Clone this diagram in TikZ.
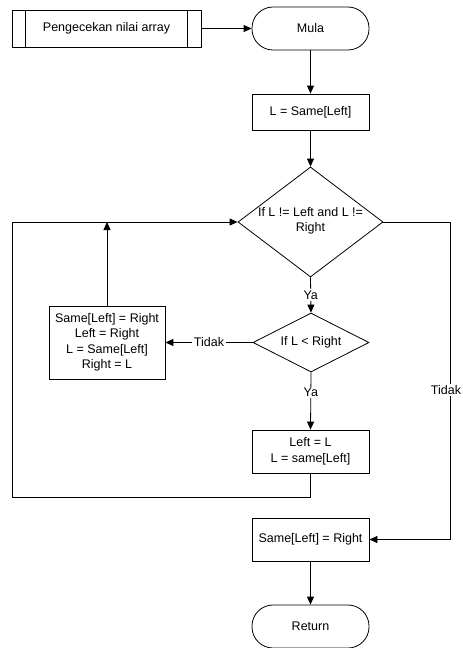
\documentclass[tikz,border=0pt]{standalone}
\usepackage{fontspec}
\setmainfont{Liberation Sans}
\usetikzlibrary{shapes.geometric,arrows.meta}
\begin{document}
\begin{tikzpicture}[x=1pt,y=-1pt,
  every node/.style={font=\fontsize{12.5}{15.5}\selectfont, text=black},
  ln/.style={draw=black, line width=0.8pt},
  arr/.style={ln, -{Triangle[length=8pt,width=7pt]}},
  box/.style={ln, rectangle, inner sep=0pt, align=center},
  term/.style={ln, rectangle, rounded corners=21pt, inner sep=0pt, minimum width=117pt, minimum height=43pt},
  dia/.style={ln, diamond, inner sep=0pt},
  lab/.style={fill=white, inner sep=1.5pt}
]
\fill[white] (0,0) rectangle (463,648);
\useasboundingbox (0,0) rectangle (463,648);

% nodes
\node[box, minimum width=189pt, minimum height=37pt] (sub) at (106.5,28.5) {Pengecekan nilai array};
\draw[ln] ([xshift=14pt]sub.north west) -- ([xshift=14pt]sub.south west);
\draw[ln] ([xshift=-14pt]sub.north east) -- ([xshift=-14pt]sub.south east);
\node[term] (mula) at (310.5,28.5) {Mula};
\node[box, minimum width=117pt, minimum height=36pt] (l1) at (310.5,112) {L = Same[Left]};
\node[dia, minimum width=145pt, minimum height=110pt] (d1) at (310.5,222) {};
\node[align=center] (d1t) at (310.5,221) {If L != Left and L !=\\Right};
\node[dia, minimum width=116pt, minimum height=59pt] (d2) at (311,342.5) {};
\node (d2t) at (311,342.5) {If L < Right};
\node[box, minimum width=116pt, minimum height=73pt] (lb) at (107,342.5) {Same[Left] = Right\\Left = Right\\L = Same[Left]\\Right = L};
\node[box, minimum width=117pt, minimum height=43pt] (lr) at (310.5,451.5) {Left = L\\L = same[Left]};
\node[box, minimum width=117pt, minimum height=43pt] (sr) at (310.5,539.5) {Same[Left] = Right};
\node[term] (ret) at (310.5,626.5) {Return};

% helper coordinates
\coordinate (lp1) at (310.5,497);
\coordinate (lp2) at (12,497);
\coordinate (rt) at (450,222);
\coordinate (rb) at (450,539.5);

% connectors
\draw[arr] (sub.east) -- (mula.west);
\draw[arr] (mula.south) -- (l1.north);
\draw[arr] (l1.south) -- (d1.north);
\draw[arr] (d1.south) -- node[lab] {Ya} (d2.north);
\draw[arr] (d2.west) -- node[lab] {Tidak} (lb.east);
\draw[arr] (lb.north) -- (lb.north |- d1.west);
\draw[arr] (d2.south) -- node[lab, pos=0.35] {Ya} (lr.north);
\draw[arr] (lr.south) -- (lp1) -- (lp2) |- (d1.west);
\draw[arr] (d1.east) -- (rt) -- node[lab, pos=0.53, xshift=-4pt] {Tidak} (rb) -- (sr.east);
\draw[arr] (sr.south) -- (ret.north);
\end{tikzpicture}
\end{document}
